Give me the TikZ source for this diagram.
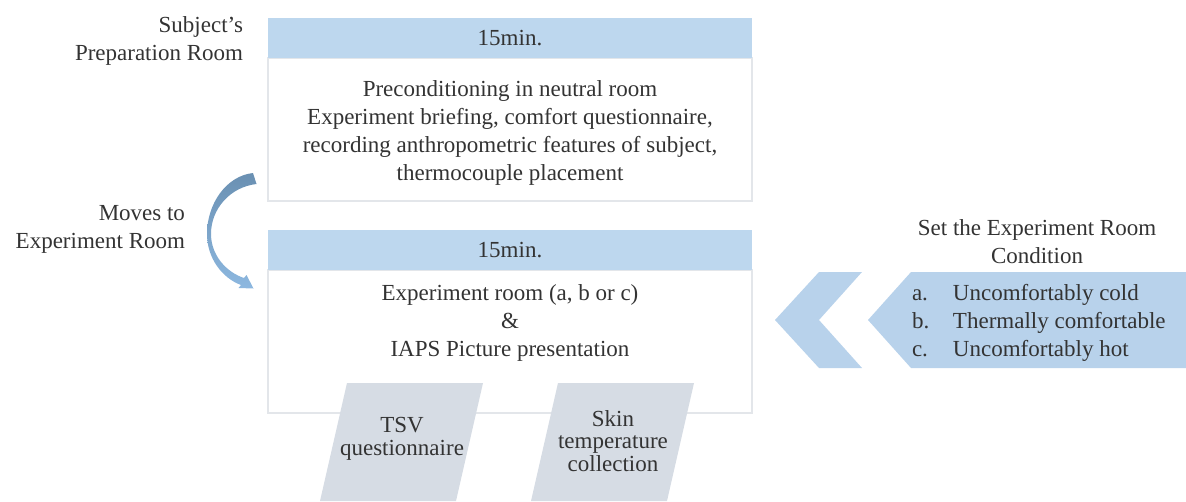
\documentclass[tikz,border=0pt]{standalone}
\usepackage{fontspec}
\setmainfont{Liberation Serif}
\usetikzlibrary{arrows.meta}
\definecolor{hdr}{HTML}{BDD7EE}
\definecolor{chev}{HTML}{B8D2EB}
\definecolor{para}{HTML}{D6DCE4}
\definecolor{txt}{HTML}{333333}
\definecolor{brd}{HTML}{E3E6EA}
\definecolor{arrA}{HTML}{6A90B2}
\definecolor{arrM}{HTML}{9DB6CC}
\definecolor{arrB}{HTML}{8DB8E0}
\begin{document}
\begin{tikzpicture}[x=1pt,y=-1pt,
  every node/.style={font=\fontsize{23}{28}\selectfont, text=txt, inner sep=0pt, outer sep=0pt},
  hdrbox/.style={fill=hdr, minimum width=484pt, minimum height=40pt},
  bodybox/.style={fill=white, draw=brd, line width=1.2pt, minimum width=484pt, minimum height=143pt},
  paratext/.style={align=center, font=\fontsize{23}{22.5}\selectfont},
  sidelabel/.style={align=right},
  movearrow/.style={top color=arrA, middle color=arrM, bottom color=arrB, draw=none},
]
\useasboundingbox (0,0) rectangle (1186,501);

% top stage
\node[bodybox] (body1) at (510,129.5) {};
\node[hdrbox] (hdr1) at (510,38) {15min.};
\node[align=center] (txt1) at (510,133) {Preconditioning in neutral room\\Experiment briefing, comfort questionnaire,\\recording anthropometric features of subject,\\thermocouple placement};

% bottom stage
\node[bodybox] (body2) at (510,341.5) {};
\node[hdrbox] (hdr2) at (510,250) {15min.};
\node[align=center] (txt2) at (510,323) {Experiment room (a, b or c)\\\&\\IAPS Picture presentation};

% parallelograms
\fill[para] (347,383) -- (483,383) -- (456,501) -- (320,501) -- cycle;
\fill[para] (558,383) -- (694,383) -- (667,501) -- (531,501) -- cycle;
\node[paratext] (tsv) at (402,439) {TSV\\questionnaire};
\node[paratext] (skin) at (613,441) {Skin\\temperature\\collection};

% side labels
\node[sidelabel, anchor=east] (prep) at (243,41) {Subject’s\\Preparation Room};
\node[sidelabel, anchor=east] (moves) at (185,229.5) {Moves to\\Experiment Room};

% curved tapered arrow (moves to experiment room)
\coordinate (mvA) at (253,173);
\coordinate (mvB) at (253.5,288.5);
\shade[movearrow] (mvA) .. controls (226,176) and (207,204) .. (207,234)
  .. controls (207,258) and (222,278) .. (241,285)
  -- (238.5,288) -- (mvB) -- (246.5,275)
  -- (244,278) .. controls (226,272) and (211,255) .. (211,234)
  .. controls (211,209) and (230,187) .. (256.5,184) -- cycle;

% condition chevrons
\fill[chev] (775,320) -- (819,272) -- (862,272) -- (819,320) -- (862,368) -- (819,368) -- cycle;
\fill[chev] (868,320) -- (911,272) -- (1186,272) -- (1186,368) -- (911,368) -- cycle;
\node[align=center] (cond) at (1037,241.5) {Set the Experiment Room\\Condition};
\node[align=left, anchor=west] (list) at (912,323) {\makebox[41pt][l]{a.}Uncomfortably cold\\\makebox[41pt][l]{b.}Thermally comfortable\\\makebox[41pt][l]{c.}Uncomfortably hot};
\end{tikzpicture}
\end{document}
